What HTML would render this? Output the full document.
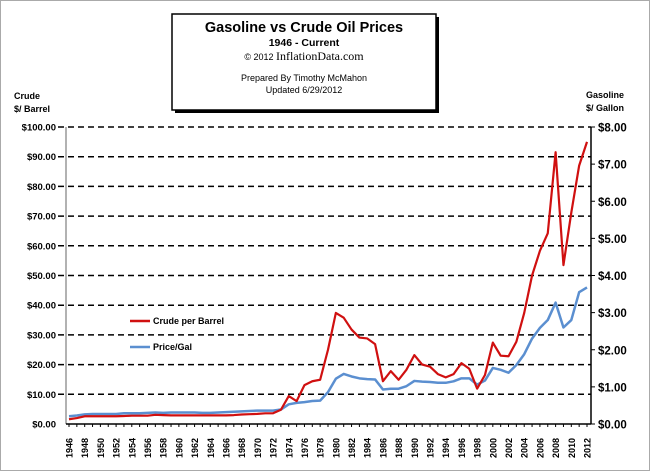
<!DOCTYPE html>
<html><head><meta charset="utf-8"><style>
body{margin:0;background:#fff;}
svg{display:block;font-family:"Liberation Sans",sans-serif;}
</style></head><body>
<svg id="chart" width="650" height="471" viewBox="0 0 650 471">
<rect x="0.5" y="0.5" width="649" height="470" fill="#fff" stroke="#aaa"/>
<g>
<rect x="175" y="17" width="264" height="96" fill="#000"/>
<rect x="172" y="14" width="264" height="96" fill="#fff" stroke="#000" stroke-width="1.5"/>
<text x="304" y="32" text-anchor="middle" font-size="14.5" font-weight="bold">Gasoline vs Crude Oil Prices</text>
<text x="304" y="46" text-anchor="middle" font-size="10.5" font-weight="bold">1946 - Current</text>
<text x="304" y="60" text-anchor="middle" font-size="12" font-family="Liberation Serif,serif"><tspan font-size="9" font-family="Liberation Sans,sans-serif">© 2012 </tspan>InflationData.com</text>
<text x="304" y="81" text-anchor="middle" font-size="9">Prepared  By Timothy  McMahon</text>
<text x="304" y="93" text-anchor="middle" font-size="9">Updated   6/29/2012</text>
</g>
<text x="14" y="99" font-size="9" font-weight="bold"><tspan x="14">Crude</tspan><tspan x="14" dy="13">$/ Barrel</tspan></text>
<text x="586" y="98" font-size="9" font-weight="bold"><tspan x="586">Gasoline</tspan><tspan x="586" dy="13">$/ Gallon</tspan></text>
<g id="grid"></g><g id="axes"></g><g id="series"></g>
<g>
<line x1="130" y1="321" x2="150" y2="321" stroke="#d01010" stroke-width="2.5"/>
<text x="153" y="324" font-size="9" font-weight="bold">Crude per Barrel</text>
<line x1="130" y1="347" x2="150" y2="347" stroke="#5b8fd0" stroke-width="2.5"/>
<text x="153" y="350" font-size="9" font-weight="bold">Price/Gal</text>
</g>
</svg>
<script>
const years=[];for(let y=1946;y<=2012;y++)years.push(y);
const crude=[1.6,2.0,2.6,2.6,2.6,2.6,2.6,2.7,2.8,2.8,2.8,3.1,3.0,2.9,2.9,2.9,2.9,2.9,2.9,2.9,2.9,3.0,3.2,3.3,3.4,3.6,3.6,4.8,9.4,7.7,13.1,14.4,14.9,25.0,37.4,35.8,31.8,29.1,28.8,26.9,14.4,17.8,14.9,18.3,23.2,20.0,19.3,16.8,15.7,16.8,20.5,18.6,11.9,16.5,27.4,23.0,22.8,27.7,37.4,50.0,58.3,64.2,91.5,53.5,71.2,87.0,95.0];
const gas=[0.21,0.23,0.26,0.27,0.27,0.27,0.27,0.29,0.29,0.29,0.30,0.31,0.30,0.31,0.31,0.31,0.31,0.30,0.30,0.31,0.32,0.33,0.34,0.35,0.36,0.36,0.36,0.39,0.53,0.57,0.59,0.62,0.63,0.86,1.22,1.35,1.28,1.23,1.21,1.20,0.93,0.95,0.95,1.02,1.16,1.14,1.13,1.11,1.11,1.15,1.23,1.23,1.06,1.17,1.51,1.46,1.38,1.59,1.88,2.30,2.59,2.80,3.27,2.60,2.80,3.55,3.68];
const leftTicks=[0,10,20,30,40,50,60,70,80,90,100];
const rightTicks=[0,1,2,3,4,5,6,7,8];
const NS="http://www.w3.org/2000/svg";
const X0=69,X1=587,Y0=424,Y1=127;
const xs=y=>X0+(y-1946)*(X1-X0)/66;
const yl=v=>Y0-v*(Y0-Y1)/100;
const yr=v=>Y0-v*(Y0-Y1)/8;
function mk(t,a,p){const e=document.createElementNS(NS,t);for(const k in a)e.setAttribute(k,a[k]);p.appendChild(e);return e;}
const grid=document.getElementById('grid'),axes=document.getElementById('axes'),ser=document.getElementById('series');
leftTicks.forEach(v=>{
 if(v>0){const g=mk('line',{x1:58,x2:591,y1:yl(v),y2:yl(v),stroke:'#000','stroke-width':1.5,'stroke-dasharray':'6,4'},grid);
 
 }
 const t=mk('text',{x:56,y:yl(v)+3.5,'text-anchor':'end','font-size':9.5,'font-weight':'bold'},axes);t.textContent='$'+v.toFixed(2);
 
 
});
rightTicks.forEach(v=>{
 mk('line',{x1:591,x2:595,y1:yr(v),y2:yr(v),stroke:'#000'},axes);
 const t=mk('text',{x:598,y:yr(v)+4.5,'font-size':11.5,'font-weight':'bold'},axes);t.textContent='$'+v.toFixed(2);
 
 
});
const la=mk('line',{x1:66,x2:66,y1:Y1,y2:Y0,stroke:'#666'},axes);


const ra=mk('line',{x1:591,x2:591,y1:Y1,y2:Y0,stroke:'#000','stroke-width':1.5},axes);


const xa=mk('line',{x1:66,x2:591,y1:Y0,y2:Y0,stroke:'#000','stroke-width':1.5},axes);


years.forEach(y=>{
 mk('line',{x1:xs(y),x2:xs(y),y1:Y0,y2:Y0+3,stroke:'#000'},axes);
 if((y-1946)%2===0){const t=mk('text',{x:0,y:0,'font-size':9,'font-weight':'bold','transform':`translate(${xs(y)+3.5},${Y0+34}) rotate(-90)`},axes);t.textContent=y;
 
 }
});
const g=mk('polyline',{points:years.map((y,i)=>xs(y)+','+yr(gas[i])).join(' '),fill:'none',stroke:'#5b8fd0','stroke-width':2.5,'stroke-linejoin':'round'},ser);


const c=mk('polyline',{points:years.map((y,i)=>xs(y)+','+yl(crude[i])).join(' '),fill:'none',stroke:'#d01010','stroke-width':2.2,'stroke-linejoin':'round'},ser);


</script>
</body></html>
